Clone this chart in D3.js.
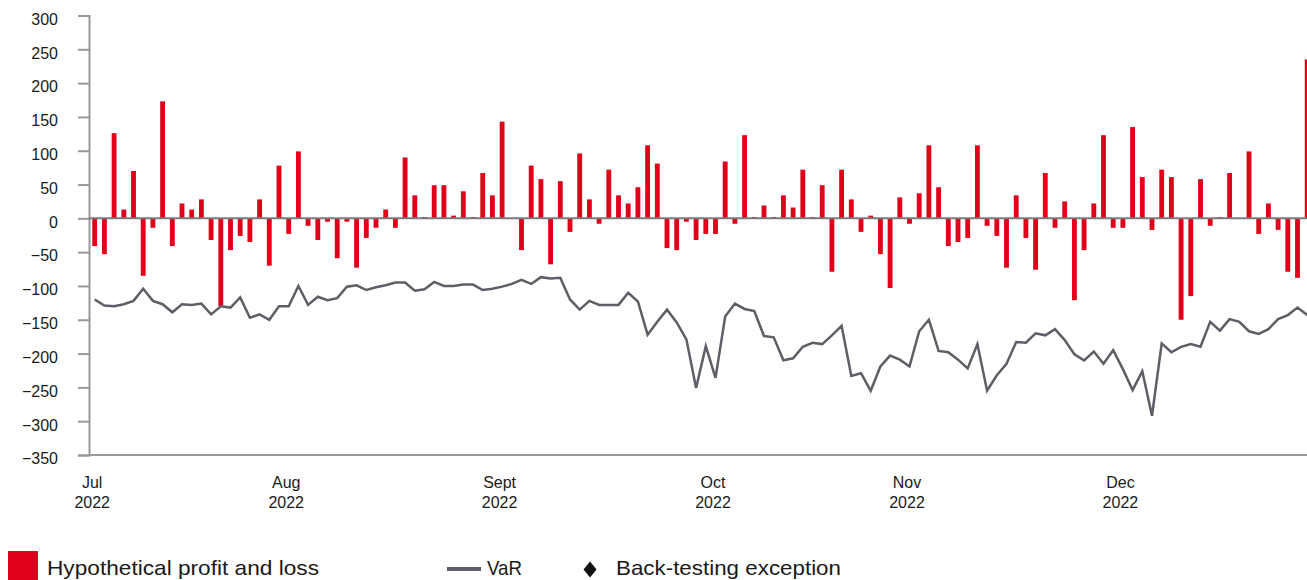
<!DOCTYPE html>
<html lang="en">
<head>
  <meta charset="UTF-8">
  <title>Hypothetical P&amp;L vs VaR</title>
  <script src="https://d3js.org/d3.v7.min.js"></script>
  <style>
    body {
      margin: 0;
      background: #fff;
      font-family: 'Liberation Sans', Arial, sans-serif;
      color: #1a1a1a;
    }
    svg { display: block; }
  </style>
</head>
<body>
  <div id="chart"></div>

  <script>
    // daily hypothetical profit and loss, Jul - Dec 2022
    const pnl = [
      -41, -53, 126, 13, 70, -85, -14, 173, -41, 22,
      13, 28, -32, -130, -47, -26, -35, 28, -70, 78,
      -23, 99, -11, -32, -5, -59, -5, -73, -29, -14,
      13, -14, 90, 34, 2, 49, 49, 4, 40, 2,
      67, 34, 143, 0, -47, 78, 58, -68, 55, -20,
      96, 28, -8, 72, 34, 22, 46, 108, 81, -44,
      -47, -5, -32, -23, -23, 84, -8, 123, 2, 19,
      2, 34, 16, 72, 2, 49, -79, 72, 28, -20,
      4, -53, -103, 31, -8, 37, 108, 46, -41, -35,
      -29, 108, -11, -26, -73, 34, -29, -76, 67, -14,
      25, -121, -47, 22, 123, -14, -14, 135, 61, -17,
      72, 61, -150, -115, 58, -11, 2, 67, 0, 99,
      -23, 22, -17, -79, -88, 235
    ];

    // daily VaR
    const varSeries = [
      -120, -129, -130, -127, -122, -104, -122, -127, -139, -127,
      -128, -126, -142, -130, -132, -117, -147, -142, -150, -130,
      -130, -100, -128, -116, -121, -118, -101, -99, -106, -102,
      -99, -95, -95, -107, -105, -94, -100, -100, -98, -98,
      -106, -104, -101, -97, -91, -97, -87, -89, -88, -120,
      -135, -122, -128, -128, -128, -110, -123, -172, -153, -135,
      -154, -179, -251, -189, -236, -145, -126, -134, -137, -174,
      -176, -210, -207, -190, -184, -186, -173, -159, -233, -229,
      -255, -219, -203, -209, -219, -167, -150, -196, -198, -209,
      -222, -186, -255, -232, -215, -183, -184, -170, -173, -164,
      -180, -201, -210, -197, -215, -195, -223, -254, -226, -292,
      -185, -198, -190, -186, -190, -153, -166, -149, -153, -167,
      -171, -164, -149, -143, -132, -143
    ];

    const yTicks = [300, 250, 200, 150, 100, 50, 0, -50, -100, -150, -200, -250, -300, -350];
    const monthLabels = ["Jul", "Aug", "Sept", "Oct", "Nov", "Dec"];
    const monthStart = [0, 20, 42, 64, 84, 106];
    const yearLabel = "2022";
    const legendLabels = ["Hypothetical profit and loss", "VaR", "Back-testing exception"];

    const width = 1307, height = 580;
    const days = d3.range(varSeries.length);

    const svg = d3.select("#chart")
      .append("svg")
      .attr("width", width)
      .attr("height", height);

    const x = d3.scaleBand()
      .domain(days)
      .range([89.85, 89.85 + 9.7 * days.length])
      .paddingInner(0.5)
      .paddingOuter(0.25);

    const y = d3.scaleLinear()
      .domain([-350, 300])
      .range([455, 15.5]);

    const cx = i => x(i) + x.bandwidth() / 2;

    // y axis
    const yAxis = d3.axisLeft(y)
      .tickValues(yTicks)
      .tickSize(11)
      .tickPadding(20);
    const yg = svg.append("g")
      .attr("transform", "translate(89,0)")
      .call(yAxis);
    yg.select(".domain").attr("stroke", "#999").attr("stroke-width", 2);
    yg.selectAll(".tick line").attr("stroke", "#999").attr("stroke-width", 2);
    yg.selectAll(".tick text")
      .attr("dy", "0.55em")
      .attr("fill", "#1a1a1a")
      .style("font-size", "16px")
      .style("font-family", "'Liberation Sans', Arial, sans-serif");

    // bottom line
    svg.append("line")
      .attr("x1", 89).attr("x2", width)
      .attr("y1", y(-350)).attr("y2", y(-350))
      .attr("stroke", "#999").attr("stroke-width", 2);

    // bars
    svg.selectAll(".pnl")
      .data(pnl)
      .enter().append("rect")
      .attr("class", "pnl")
      .attr("x", (d, i) => x(i))
      .attr("width", x.bandwidth())
      .attr("y", d => y(Math.max(0, d)))
      .attr("height", d => Math.abs(y(d) - y(0)))
      .attr("fill", "#e1001a");

    // zero line
    svg.append("line")
      .attr("x1", 89).attr("x2", width)
      .attr("y1", y(0)).attr("y2", y(0))
      .attr("stroke", "#7a7a7a").attr("stroke-width", 2);

    // VaR line
    const line = d3.line()
      .x((d, i) => cx(i))
      .y(d => y(d));
    svg.append("path")
      .datum(varSeries)
      .attr("fill", "none")
      .attr("stroke", "#5e5e66")
      .attr("stroke-width", 2.5)
      .attr("d", line);

    // month labels
    const months = svg.append("g")
      .attr("font-size", "16px")
      .attr("fill", "#1a1a1a")
      .attr("text-anchor", "middle");
    monthLabels.forEach((m, k) => {
      const mx = cx(monthStart[k]) - 2.5;
      const t = months.append("text").attr("y", 488);
      t.append("tspan").attr("x", mx).text(m);
      t.append("tspan").attr("x", mx).attr("dy", 20).text(yearLabel);
    });

    // legend
    const lg = svg.append("g")
      .style("font-family", "'Liberation Sans', Arial, sans-serif")
      .style("font-size", "21px")
      .attr("fill", "#1a1a1a");
    lg.append("rect")
      .attr("x", 8).attr("y", 551).attr("width", 30).attr("height", 30)
      .attr("fill", "#e1001a");
    lg.append("text").attr("x", 47).attr("y", 575)
      .attr("textLength", 272).attr("lengthAdjust", "spacingAndGlyphs")
      .text(legendLabels[0]);
    lg.append("line")
      .attr("x1", 447).attr("x2", 481).attr("y1", 569).attr("y2", 569)
      .attr("stroke", "#5e5e66").attr("stroke-width", 4);
    lg.append("text").attr("x", 487).attr("y", 575)
      .attr("textLength", 35).attr("lengthAdjust", "spacingAndGlyphs")
      .text(legendLabels[1]);
    const dp = d3.path();
    dp.moveTo(590, 561.5); dp.lineTo(596.5, 569.5); dp.lineTo(590, 577.5); dp.lineTo(583.5, 569.5); dp.closePath();
    lg.append("path").attr("d", dp.toString()).attr("fill", "#111");
    lg.append("text").attr("x", 616).attr("y", 575)
      .attr("textLength", 225).attr("lengthAdjust", "spacingAndGlyphs")
      .text(legendLabels[2]);
  </script>
</body>
</html>
